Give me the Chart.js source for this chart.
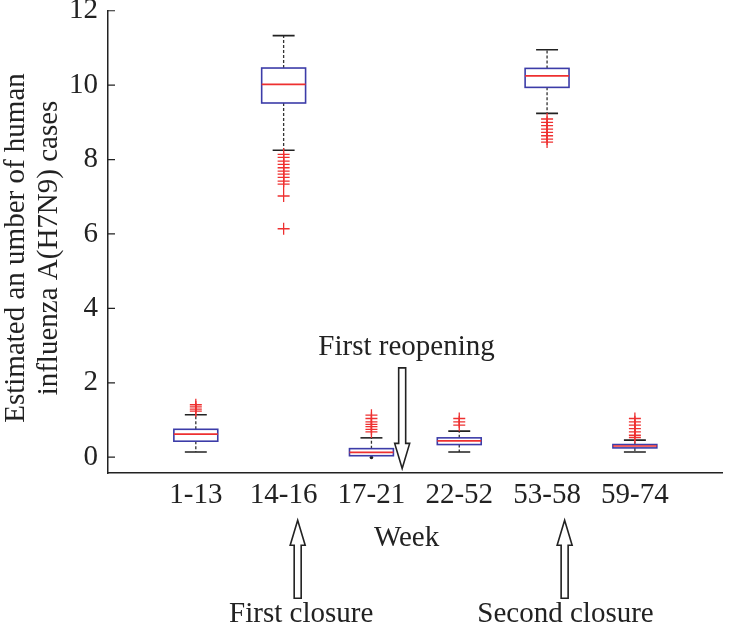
<!DOCTYPE html>
<html>
<head>
<meta charset="utf-8">
<script src="https://cdn.jsdelivr.net/npm/chart.js@4.4.1/dist/chart.umd.min.js"></script>
<style>
  html, body { margin: 0; padding: 0; background: #fff; }
  #wrap { width: 730px; height: 627px; }
</style>
</head>
<body>
<div id="wrap"><canvas id="boxChart"></canvas></div>
<script>
const weekLabels = ['1-13', '14-16', '17-21', '22-52', '53-58', '59-74'];
const yTicks = [0, 2, 4, 6, 8, 10, 12];

// box plot statistics
const whiskerLow = [0.14, 8.25, -0.01, 0.14, 9.24, 0.14];
const q1 = [0.43, 9.52, 0.04, 0.34, 9.94, 0.25];
const medians = [0.62, 10.02, 0.13, 0.44, 10.25, 0.30];
const q3 = [0.75, 10.46, 0.23, 0.52, 10.45, 0.34];
const whiskerHigh = [1.14, 11.33, 0.52, 0.70, 10.95, 0.46];

const outliers = [
    [1.41, 1.35, 1.29, 1.24],
    [8.14, 8.06, 7.96, 7.87, 7.78, 7.69, 7.61, 7.52, 7.42, 7.34, 7.02, 6.14],
    [1.13, 1.04, 0.95, 0.88, 0.82, 0.75, 0.68],
    [1.04, 0.95, 0.86],
    [9.09, 9.0, 8.91, 8.82, 8.73, 8.64, 8.55, 8.47],
    [1.04, 0.95, 0.86, 0.77, 0.68, 0.59, 0.53]
];

const serif = "'Liberation Serif', 'DejaVu Serif', serif";
const fontPx = 29;
const ink = '#222';
const boxBlue = '#3c3ca8';
const medRed = '#ee3030';

const outlierPoints = outliers.flatMap((vals, i) => vals.map(v => ({ x: i + 1, y: v })));

// draws whiskers, boxes and medians from the arrays above
const boxPlugin = {
    id: 'boxes',
    beforeDatasetsDraw(chart) {
        const { ctx, scales: { x, y } } = chart;
        const halfBox = (x.getPixelForValue(1.25) - x.getPixelForValue(1));
        const halfCap = (x.getPixelForValue(1.125) - x.getPixelForValue(1));
        ctx.save();
        weekLabels.forEach((lab, i) => {
            const cx = x.getPixelForValue(i + 1);
            // dashed whiskers
            ctx.strokeStyle = '#333';
            ctx.lineWidth = 1.3;
            ctx.setLineDash([3, 2]);
            ctx.beginPath();
            ctx.moveTo(cx, y.getPixelForValue(q3[i]));
            ctx.lineTo(cx, y.getPixelForValue(whiskerHigh[i]));
            ctx.moveTo(cx, y.getPixelForValue(q1[i]));
            ctx.lineTo(cx, y.getPixelForValue(whiskerLow[i]));
            ctx.stroke();
            ctx.setLineDash([]);
            // caps
            ctx.strokeStyle = ink;
            ctx.lineWidth = 1.6;
            ctx.beginPath();
            const yh = y.getPixelForValue(whiskerHigh[i]);
            ctx.moveTo(cx - halfCap, yh);
            ctx.lineTo(cx + halfCap, yh);
            if (q1[i] - whiskerLow[i] > 0.08) {
                const yl = y.getPixelForValue(whiskerLow[i]);
                ctx.moveTo(cx - halfCap, yl);
                ctx.lineTo(cx + halfCap, yl);
            }
            ctx.stroke();
            if (q1[i] - whiskerLow[i] <= 0.08) {
                ctx.fillStyle = ink;
                ctx.beginPath();
                ctx.arc(cx, y.getPixelForValue(whiskerLow[i]), 1.8, 0, Math.PI * 2);
                ctx.fill();
            }
            // box
            const top = y.getPixelForValue(q3[i]);
            const bot = y.getPixelForValue(q1[i]);
            ctx.fillStyle = '#fff';
            ctx.fillRect(cx - halfBox, top, halfBox * 2, bot - top);
            ctx.strokeStyle = boxBlue;
            ctx.lineWidth = 1.6;
            ctx.strokeRect(cx - halfBox, top, halfBox * 2, bot - top);
            // median
            const ym = y.getPixelForValue(medians[i]);
            ctx.strokeStyle = medRed;
            ctx.beginPath();
            ctx.moveTo(cx - halfBox, ym);
            ctx.lineTo(cx + halfBox, ym);
            ctx.stroke();
        });
        ctx.restore();
    },
    afterDraw(chart) {
        const { ctx, chartArea, scales: { x, y } } = chart;
        ctx.save();
        // inward y ticks
        ctx.strokeStyle = ink;
        ctx.lineWidth = 1.2;
        ctx.beginPath();
        yTicks.forEach(v => {
            const py = y.getPixelForValue(v);
            ctx.moveTo(chartArea.left, py);
            ctx.lineTo(chartArea.left + 7, py);
        });
        ctx.stroke();

        ctx.fillStyle = ink;
        ctx.font = fontPx + 'px ' + serif;
        ctx.textAlign = 'center';
        ctx.textBaseline = 'middle';
        // axis titles
        ctx.fillText('Week', x.getPixelForValue(3.4), chartArea.bottom + 65);
        ctx.save();
        ctx.translate(16, 248);
        ctx.rotate(-Math.PI / 2);
        ctx.fillText('Estimated an umber of human', 0, 0);
        ctx.fillText('influenza A(H7N9) cases', 0, 33);
        ctx.restore();

        // annotations
        ctx.textBaseline = 'alphabetic';
        ctx.fillText('First reopening', x.getPixelForValue(3.4), y.getPixelForValue(2.75));
        ctx.fillText('First closure', x.getPixelForValue(2.2), chartArea.bottom + 149);
        ctx.fillText('Second closure', x.getPixelForValue(5.21), chartArea.bottom + 149);

        const arrow = (ax, yTail, yTip) => {
            const dir = yTip > yTail ? 1 : -1;
            const sw = 3.5, hw = 7.5, hl = 25;
            const yNeck = yTip - dir * hl;
            ctx.beginPath();
            ctx.moveTo(ax - sw, yTail);
            ctx.lineTo(ax - sw, yNeck);
            ctx.lineTo(ax - hw, yNeck);
            ctx.lineTo(ax, yTip);
            ctx.lineTo(ax + hw, yNeck);
            ctx.lineTo(ax + sw, yNeck);
            ctx.lineTo(ax + sw, yTail);
            ctx.closePath();
            ctx.fillStyle = '#fff';
            ctx.fill();
            ctx.strokeStyle = ink;
            ctx.lineWidth = 1.6;
            ctx.stroke();
        };
        arrow(x.getPixelForValue(3.35), y.getPixelForValue(2.4), y.getPixelForValue(-0.3));
        arrow(x.getPixelForValue(2.16), chartArea.bottom + 125, chartArea.bottom + 47);
        arrow(x.getPixelForValue(5.2), chartArea.bottom + 125, chartArea.bottom + 47);
        ctx.restore();
    }
};

const ctx = document.getElementById('boxChart').getContext('2d');

const myChart = new Chart(ctx, {
    type: 'scatter',
    data: {
        datasets: [{
            label: 'Outliers',
            data: outlierPoints,
            pointStyle: 'cross',
            pointRadius: 6,
            borderColor: medRed,
            borderWidth: 1.3,
            showLine: false
        }]
    },
    options: {
        responsive: true,
        maintainAspectRatio: false,
        animation: false,
        layout: { padding: { left: 59, right: -6, top: 0, bottom: 109 } },
        plugins: {
            legend: { display: false },
            tooltip: { enabled: false }
        },
        scales: {
            x: {
                type: 'linear',
                min: 0,
                max: 7,
                afterBuildTicks: axis => { axis.ticks = weekLabels.map((_, i) => ({ value: i + 1 })); },
                ticks: {
                    callback: v => weekLabels[v - 1],
                    font: { family: serif, size: fontPx },
                    color: ink,
                    padding: 5,
                    autoSkip: false,
                    maxRotation: 0
                },
                grid: { display: false, drawTicks: false },
                border: { color: ink, width: 1.5 }
            },
            y: {
                min: -0.43,
                max: 12,
                afterBuildTicks: axis => { axis.ticks = yTicks.map(v => ({ value: v })); },
                ticks: {
                    font: { family: serif, size: fontPx, lineHeight: 0.05 },
                    color: ink,
                    padding: 10
                },
                grid: { display: false, drawTicks: false },
                border: { color: ink, width: 1.5 }
            }
        }
    },
    plugins: [boxPlugin]
});
</script>
</body>
</html>
